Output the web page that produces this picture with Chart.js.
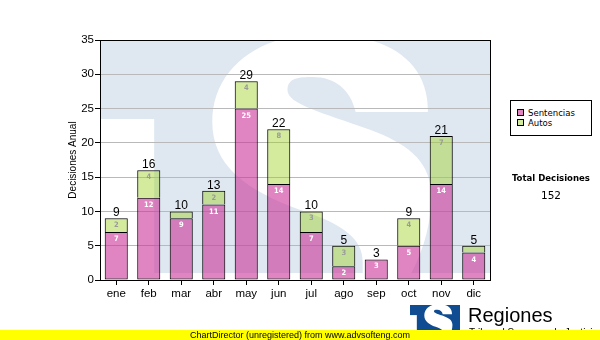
<!DOCTYPE html>
<html>
<head>
<meta charset="utf-8">
<script src="https://cdn.jsdelivr.net/npm/chart.js@4.4.1/dist/chart.umd.min.js"></script>
<style>
  html, body { margin: 0; padding: 0; background: #fff; }
  #wrap { position: relative; width: 600px; height: 340px; overflow: hidden; font-family: 'Liberation Sans', Arial, sans-serif; }
  #chart { position: absolute; left: 0; top: 0; }
  #legend { position: absolute; left: 510px; top: 100px; width: 82px; height: 36px; box-sizing: border-box;
            border: 1px solid #000; background: #fff; padding: 7px 0 0 6px;
            font: 9.5px 'DejaVu Sans Condensed', 'DejaVu Sans', sans-serif; color: #000; }
  #legend .item { height: 10px; line-height: 10px; white-space: nowrap; }
  #legend .sw { display: inline-block; width: 5px; height: 5px; border: 1px solid #000; margin-right: 4px; vertical-align: 0px; }
  #total { position: absolute; left: 500px; width: 102px; top: 172px; text-align: center; color: #000;
           font: bold 9.5px 'DejaVu Sans Condensed', 'DejaVu Sans', sans-serif; }
  #totalValue { position: absolute; left: 500px; width: 102px; top: 189px; text-align: center; color: #000;
                font: 10.5px 'DejaVu Sans', sans-serif; }
  #brand { position: absolute; left: 468px; top: 305px; font: 20px/20px 'Liberation Sans', Arial, sans-serif; color: #000; }
  #brandSub { position: absolute; left: 469px; top: 328px; font: 10px/10px 'Liberation Sans', Arial, sans-serif; color: #000; white-space: nowrap; }
  #band { position: absolute; left: 0; top: 330px; width: 600px; height: 10px; background: #ffff00; text-align: center;
          font: 9px/10px 'Liberation Sans', Arial, sans-serif; color: #000; }
</style>
</head>
<body>
<div id="wrap">
  <canvas id="chart" width="600" height="340"></canvas>
  <div id="legend"></div>
  <div id="total">Total Decisiones</div>
  <div id="totalValue"></div>
  <div id="brand">Regiones</div>
  <div id="brandSub">Tribunal Supremo de Justicia</div>
  <div id="band">ChartDirector (unregistered) from www.advsofteng.com</div>
</div>
<script>
// Monthly decisions, split by type
const months = ['ene', 'feb', 'mar', 'abr', 'may', 'jun', 'jul', 'ago', 'sep', 'oct', 'nov', 'dic'];
const sentencias = [7, 12, 9, 11, 25, 14, 7, 2, 3, 5, 14, 4];
const autos = [2, 4, 1, 2, 4, 8, 3, 3, 0, 4, 7, 1];
const seriesNames = ['Sentencias', 'Autos'];
const yTicks = [0, 5, 10, 15, 20, 25, 30, 35];

const totals = sentencias.map((v, i) => v + autos[i]);
const grandTotal = totals.reduce((a, b) => a + b, 0);

const fills = ['rgba(204, 51, 153, 0.6)', 'rgba(160, 210, 40, 0.45)'];
const swatches = ['#e085c2', '#d4eb9e'];

// "TS" emblem, laid out on a 388 x 232 design box
function drawEmblem(ctx, x, y, w, h, color) {
  ctx.save();
  ctx.translate(x, y);
  ctx.scale(w / 388, h / 232);
  ctx.beginPath();
  ctx.rect(0, 0, 388, 232);
  ctx.clip();
  ctx.fillStyle = color;
  ctx.fillRect(0, 0, 388, 232);
  ctx.fillStyle = '#fff';
  ctx.fillRect(0, 78, 53, 154);

  ctx.beginPath();
  ctx.moveTo(326, 71);
  ctx.bezierCurveTo(327, 21, 287, -7, 221, -7);
  ctx.bezierCurveTo(155, -7, 111, 29, 111, 81);
  ctx.bezierCurveTo(111, 124, 144, 149, 199, 169);
  ctx.bezierCurveTo(244, 184, 261, 199, 261, 221);
  ctx.lineTo(261, 269);
  ctx.lineTo(284, 269);
  ctx.bezierCurveTo(319, 229, 331, 184, 329, 149);
  ctx.bezierCurveTo(327, 119, 304, 102, 269, 89);
  ctx.bezierCurveTo(219, 71, 186, 63, 186, 49);
  ctx.bezierCurveTo(186, 37, 197, 36, 211, 36);
  ctx.bezierCurveTo(234, 36, 249, 49, 254, 71);
  ctx.closePath();
  ctx.fill();
  ctx.restore();
}

const backdrop = {
  id: 'backdrop',
  beforeDraw(chart) {
    const a = chart.chartArea;
    drawEmblem(chart.ctx, a.left + 1, a.top + 1, a.right - a.left - 1, a.bottom - a.top - 8, '#dfe8f1');
  },
  afterDraw(chart) {
    const ctx = chart.ctx, a = chart.chartArea;
    ctx.save();
    ctx.strokeStyle = '#000';
    ctx.lineWidth = 1;
    ctx.strokeRect(a.left + 0.5, a.top + 0.5, a.right - a.left, a.bottom - a.top);
    ctx.restore();
    drawEmblem(ctx, 410, 305, 50, 30, '#0f4c92');
  }
};

// value inside each segment, total on top of each stack
const barLabels = {
  id: 'barLabels',
  afterDatasetsDraw(chart) {
    const ctx = chart.ctx;
    const low = chart.getDatasetMeta(0).data;
    const high = chart.getDatasetMeta(1).data;
    ctx.save();
    ctx.textAlign = 'center';
    months.forEach((m, i) => {
      [[low[i], sentencias[i], '#fff'], [high[i], autos[i], '#9a9a9a']].forEach(([bar, v, color]) => {
        if (bar.base - bar.y < 12) return;
        ctx.font = "bold 7.5px 'DejaVu Sans Condensed', 'DejaVu Sans', sans-serif";
        ctx.fillStyle = color;
        ctx.textBaseline = 'middle';
        ctx.fillText(String(v), bar.x, bar.y + 7);
      });
      const top = Math.min(low[i].y, high[i].y);
      ctx.font = "12px 'Liberation Sans', Arial, sans-serif";
      ctx.fillStyle = '#000';
      ctx.textBaseline = 'alphabetic';
      ctx.fillText(String(totals[i]), low[i].x, top - 2);
    });
    ctx.restore();
  }
};

Chart.defaults.font.family = "'Liberation Sans', Arial, sans-serif";
Chart.defaults.color = '#000';

new Chart(document.getElementById('chart'), {
  type: 'bar',
  data: {
    labels: months,
    datasets: [sentencias, autos].map((values, k) => ({
      label: seriesNames[k],
      data: values,
      backgroundColor: fills[k],
      borderColor: '#000',
      borderWidth: k === 0 ? 1 : { top: 1, left: 1, right: 1, bottom: 0 },
      borderSkipped: false,
      categoryPercentage: 1,
      barPercentage: 0.71
    }))
  },
  options: {
    responsive: false,
    devicePixelRatio: 1,
    animation: false,
    events: [],
    layout: { padding: { left: 0, top: 40, right: 110, bottom: 0 } },
    plugins: { legend: { display: false }, tooltip: { enabled: false } },
    scales: {
      x: {
        stacked: true,
        afterFit: (s) => { s.height = 60; },
        grid: { offset: false, drawOnChartArea: false, tickLength: 5, tickColor: '#000', color: '#000' },
        border: { color: '#000' },
        ticks: { font: { size: 11.5 }, padding: 2, maxRotation: 0 }
      },
      y: {
        stacked: true,
        min: 0,
        max: 35,
        afterFit: (s) => { s.width = 100; },
        afterBuildTicks: (s) => { s.ticks = yTicks.map(v => ({ value: v })); },
        grid: { color: '#b9b9b9', tickLength: 5, tickColor: '#000' },
        border: { color: '#000' },
        ticks: { font: { size: 11.5 }, padding: 1 },
        title: { display: true, text: 'Decisiones Anual', font: { size: 10 }, padding: { top: 67, bottom: 0 } }
      }
    }
  },
  plugins: [backdrop, barLabels]
});

document.getElementById('legend').innerHTML = seriesNames.map((name, k) =>
  `<div class="item"><span class="sw" style="background:${swatches[k]}"></span>${name}</div>`).join('');
document.getElementById('totalValue').textContent = grandTotal;
</script>
</body>
</html>
